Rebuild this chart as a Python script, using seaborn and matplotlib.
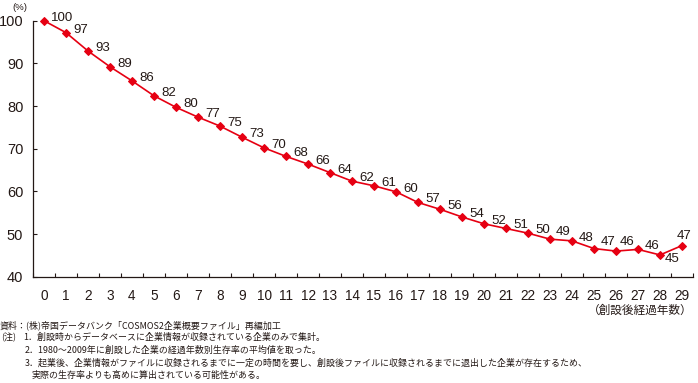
import matplotlib
matplotlib.use("Agg")
import matplotlib.pyplot as plt
import seaborn as sns
import pandas as pd
import numpy as np

years = list(range(30))
survival = [100, 97.2, 92.9, 89.2, 85.9, 82.4, 79.7, 77.4, 75.3, 72.7,
            70.2, 68.2, 66.4, 64.4, 62.4, 61.3, 59.9, 57.4, 55.8, 54.0,
            52.4, 51.3, 50.2, 48.8, 48.4, 46.6, 46.0, 46.4, 45.1, 47.3]
labels = ["100", "97", "93", "89", "86", "82", "80", "77", "75", "73",
          "70", "68", "66", "64", "62", "61", "60", "57", "56", "54",
          "52", "51", "50", "49", "48", "47", "46", "46", "45", "47"]
yticks = [40, 50, 60, 70, 80, 90, 100]

RED = "#e60012"
INK = "#231815"

sns.set_theme(style="white")
plt.rcParams['font.family'] = ['Liberation Sans', 'Noto Sans CJK JP', 'DejaVu Sans']

W, H = 698, 383
fig = plt.figure(figsize=(W / 100, H / 100), dpi=100)
ax = fig.add_axes([33 / W, 1 - 276.7 / H, (693 - 33) / W, (276.7 - 20.7) / H])

df = pd.DataFrame({"year": years, "rate": survival})
sns.lineplot(data=df, x="year", y="rate", ax=ax, color=RED, linewidth=1.2,
             marker="D", markersize=3.6, markeredgecolor=RED, clip_on=False)

# data labels
offsets = {23: (6, 7), 25: (7, 7), 26: (4, 9), 28: (5, -4), 29: (-5, 10)}
for x, y, lab in zip(years, survival, labels):
    dx, dy = offsets.get(x, (7, 3))
    ax.annotate(lab, (x, y), xytext=(dx, dy), textcoords="offset pixels",
                ha="left", va="center", fontsize=9.5, color=INK)

ax.set_xlim(-0.5, 29.5)
ax.set_ylim(40, 100)
ax.set_xticks(years)
ax.set_xticklabels([str(v) for v in years])
ax.set_xticks(np.arange(-0.5, 30, 1.0), minor=True)
ax.set_yticks(yticks)
ax.set_yticklabels([str(v) for v in yticks])
ax.tick_params(axis="x", which="major", length=0, pad=9, labelsize=9.8, colors=INK)
ax.tick_params(axis="x", which="minor", direction="in", length=3, width=0.8, color=INK, bottom=True)
ax.tick_params(axis="y", which="major", direction="in", length=3, width=0.8, pad=7,
               labelsize=10.5, colors=INK, left=True)
ax.set_xlabel("")
ax.set_ylabel("")
for s in ["top", "right"]:
    ax.spines[s].set_visible(False)
for s in ["left", "bottom"]:
    ax.spines[s].set_color(INK)
    ax.spines[s].set_linewidth(0.9)
ax.grid(False)

def fy(py):
    return 1 - py / H

jp = ['Noto Sans CJK JP', 'DejaVu Sans']
fig.text(20 / W, fy(7), "(%)", ha="center", va="center", fontsize=6.8, color=INK)
fig.text(693 / W, fy(310), "（創設後経過年数）", ha="right", va="center", fontsize=8.4,
         color=INK, family=jp)

nfs = 6.45
fig.text(0 / W, fy(325), "資料：(株)帝国データバンク「COSMOS2企業概要ファイル」再編加工",
         ha="left", va="center", fontsize=nfs, color=INK, family=jp)
fig.text(1 / W, fy(337.7), "(注)", ha="left", va="center", fontsize=nfs, color=INK, family=jp)
fig.text(23 / W, fy(337.7), "1．創設時からデータベースに企業情報が収録されている企業のみで集計。",
         ha="left", va="center", fontsize=nfs, color=INK, family=jp)
fig.text(25 / W, fy(350.3), "2．1980～2009年に創設した企業の経過年数別生存率の平均値を取った。",
         ha="left", va="center", fontsize=nfs, color=INK, family=jp)
fig.text(25 / W, fy(363), "3．起業後、企業情報がファイルに収録されるまでに一定の時間を要し、創設後ファイルに収録されるまでに退出した企業が存在するため、",
         ha="left", va="center", fontsize=nfs, color=INK, family=jp)
fig.text(32 / W, fy(375), "実際の生存率よりも高めに算出されている可能性がある。",
         ha="left", va="center", fontsize=nfs, color=INK, family=jp)

fig.savefig("out.png", dpi=100)
